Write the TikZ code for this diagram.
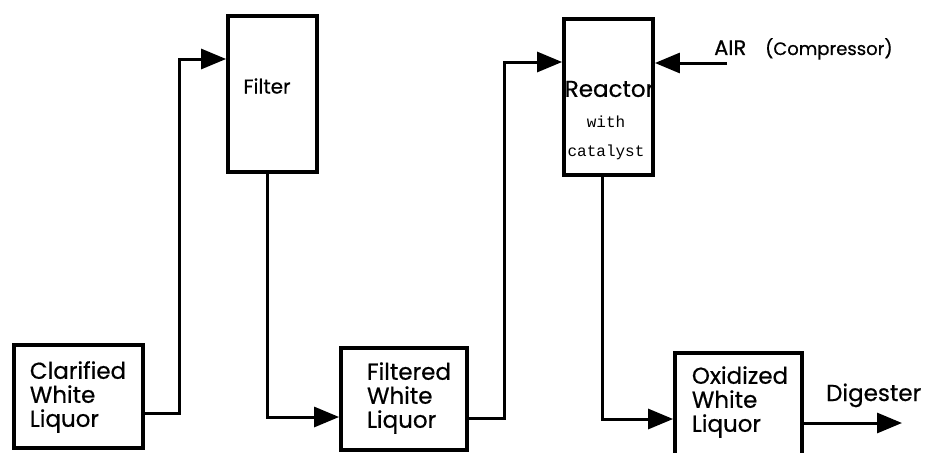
\documentclass[tikz,border=0pt]{standalone}
\usepackage{fontspec}
\setmainfont{Poppins}[FakeBold=0.6]
\newfontfamily\monof{Liberation Mono}
\usetikzlibrary{arrows.meta}
\begin{document}
\begin{tikzpicture}[x=1pt,y=-1pt,
  box/.style={draw, line width=3.8pt, rectangle, inner sep=0pt},
  txt/.style={inner sep=0pt, align=left, font=\fontsize{23}{24}\selectfont},
  flow/.style={line width=3pt, -{Triangle[length=25pt,width=20pt]}}]
\useasboundingbox (0,0) rectangle (933,452);
% boxes
\node[box, minimum width=129pt, minimum height=103pt] (cwl) at (78.5,396.5) {};
\node[txt] (cwlt) at (78,397) {Clarified\\White\\Liquor};
\node[box, minimum width=89pt, minimum height=156pt] (filter) at (272.5,94) {};
\node[txt, font=\fontsize{20}{20}\selectfont] (filtert) at (267,86) {Filter};
\node[box, minimum width=126pt, minimum height=102pt] (fwl) at (404,399) {};
\node[txt] (fwlt) at (409,398) {Filtered\\White\\Liquor};
\node[box, minimum width=89pt, minimum height=156pt] (reactor) at (608.5,97) {};
\node[txt, font=\fontsize{23}{23}\selectfont] (reactort) at (609.5,89) {Reactor};
\node[inner sep=0pt, font=\monof\fontsize{16}{16}\selectfont] (witht) at (606,122) {with};
\node[inner sep=0pt, font=\monof\fontsize{16}{16}\selectfont] (catt) at (606,152) {catalyst};
\node[box, minimum width=127pt, minimum height=104pt] (owl) at (738.5,405) {};
\node[txt] (owlt) at (740,402) {Oxidized\\White\\Liquor};
% outside texts
\node[inner sep=0pt, anchor=base west, font=\fontsize{21}{21}\selectfont] (air) at (714,55) {AIR};
\node[inner sep=0pt, anchor=base west, font=\fontsize{18}{18}\selectfont] (comp) at (765,55) {(Compressor)};
\node[inner sep=0pt, anchor=base west, font=\fontsize{23}{23}\selectfont] (dig) at (826,401) {Digester};
\coordinate (airin) at (727,63);
\coordinate (digout) at (902,423);
% connectors
\draw[flow] ([yshift=-16.5pt]cwl.east) -- ++(35,0) |- ([yshift=35pt]filter.west);
\draw[flow] ([xshift=-5.5pt]filter.south) |- ([yshift=-18pt]fwl.west);
\draw[flow] ([yshift=-19pt]fwl.east) -- ++(36,0) |- ([yshift=35pt]reactor.west);
\draw[flow] (airin) -- (airin -| reactor.east);
\draw[flow] ([xshift=-6.5pt]reactor.south) |- ([yshift=-14pt]owl.west);
\draw[flow] (digout -| owl.east) -- (digout);
\end{tikzpicture}
\end{document}
